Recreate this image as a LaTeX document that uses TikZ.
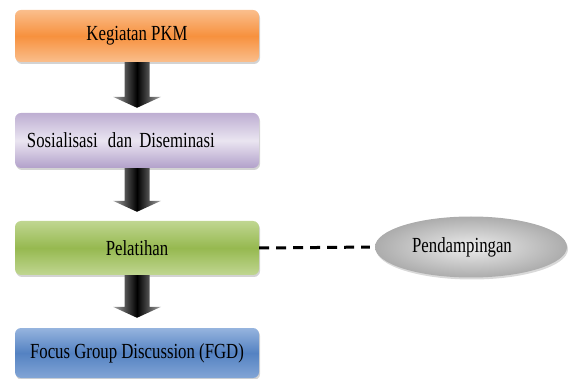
\documentclass[tikz,border=0pt]{standalone}
\usepackage{fontspec}
\setmainfont{Liberation Serif}[FakeStretch=0.78]
\usepackage{tikz}
\usetikzlibrary{shapes.geometric, calc, shadows}
\definecolor{pkmorange}{RGB}{247,145,62}
\definecolor{pkmorangelt}{RGB}{250,190,140}
\definecolor{pkmpurple}{RGB}{178,160,202}
\definecolor{pkmpurplelt}{RGB}{234,229,241}
\definecolor{pkmgreen}{RGB}{150,185,80}
\definecolor{pkmgreenlt}{RGB}{192,214,145}
\definecolor{pkmblue}{RGB}{84,130,194}
\definecolor{pkmbluelt}{RGB}{150,180,222}
\tikzset{
  item/.style={rectangle, rounded corners=6pt, minimum width=244pt, inner sep=0pt,
    text centered, font=\fontsize{21.5}{25}\selectfont,
    drop shadow={opacity=0.35, shadow xshift=1pt, shadow yshift=-2pt}},
  blockarrow/.style={to path={let \p1=(\tikztostart), \p2=(\tikztotarget) in
    (\x1-12.5pt,\y1) -- (\x1+12.5pt,\y1) -- (\x1+12.5pt,\y2+11pt) -- (\x1+24pt,\y2+11pt)
    -- (\x1,\y2) -- (\x1-24pt,\y2+11pt) -- (\x1-12.5pt,\y2+11pt) -- cycle}},
  flow/.style={left color=gray!70, right color=gray!70, middle color=black}
}
\tikzstyle{link} = [line width=3pt, dash pattern=on 10pt off 7pt, shorten >=5pt]
\begin{document}
\begin{tikzpicture}[x=1pt, y=-1pt]
    \useasboundingbox (0,0) rectangle (570,379);
    % nodes
    \node (Kegiatan)  [item, minimum height=52pt, top color=pkmorangelt, bottom color=pkmorangelt, middle color=pkmorange] at (137,36) {Kegiatan PKM\\[3pt]};
    \node (Sosialisasi) [item, minimum height=55pt, align=left, text width=220pt, top color=pkmpurple!85, bottom color=pkmpurple, middle color=pkmpurplelt] at (137,140.5) {Sosialisasi\hspace{3pt} dan Diseminasi\\[6pt]};
    \node (Pelatihan) [item, minimum height=54pt, top color=pkmgreenlt, bottom color=pkmgreenlt, middle color=pkmgreen] at (137,248) {Pelatihan\\[5pt]};
    \node (FGD)       [item, minimum height=50pt, top color=pkmbluelt, bottom color=pkmbluelt!70!pkmblue, middle color=pkmblue] at (137,353) {Focus Group Discussion (FGD)\\[2pt]};
    \node (Pendampingan) [ellipse, minimum width=192pt, minimum height=61pt, inner sep=0pt,
      inner color=gray!15, outer color=gray!65, font=\fontsize{21.5}{25}\selectfont,
      drop shadow={opacity=0.3, shadow xshift=1pt, shadow yshift=-2pt}] at (471,247) {Pendampingan\hspace*{18pt}\\[4pt]};
    % arrows
    \path[flow] (Kegiatan.south) to[blockarrow] ([yshift=5pt]Sosialisasi.north);
    \path[flow] (Sosialisasi.south) to[blockarrow] ([yshift=9pt]Pelatihan.north);
    \path[flow] (Pelatihan.south) to[blockarrow] ([yshift=10pt]FGD.north);
    \draw[link] (Pelatihan.east) -- (Pendampingan.west);
\end{tikzpicture}
\end{document}
